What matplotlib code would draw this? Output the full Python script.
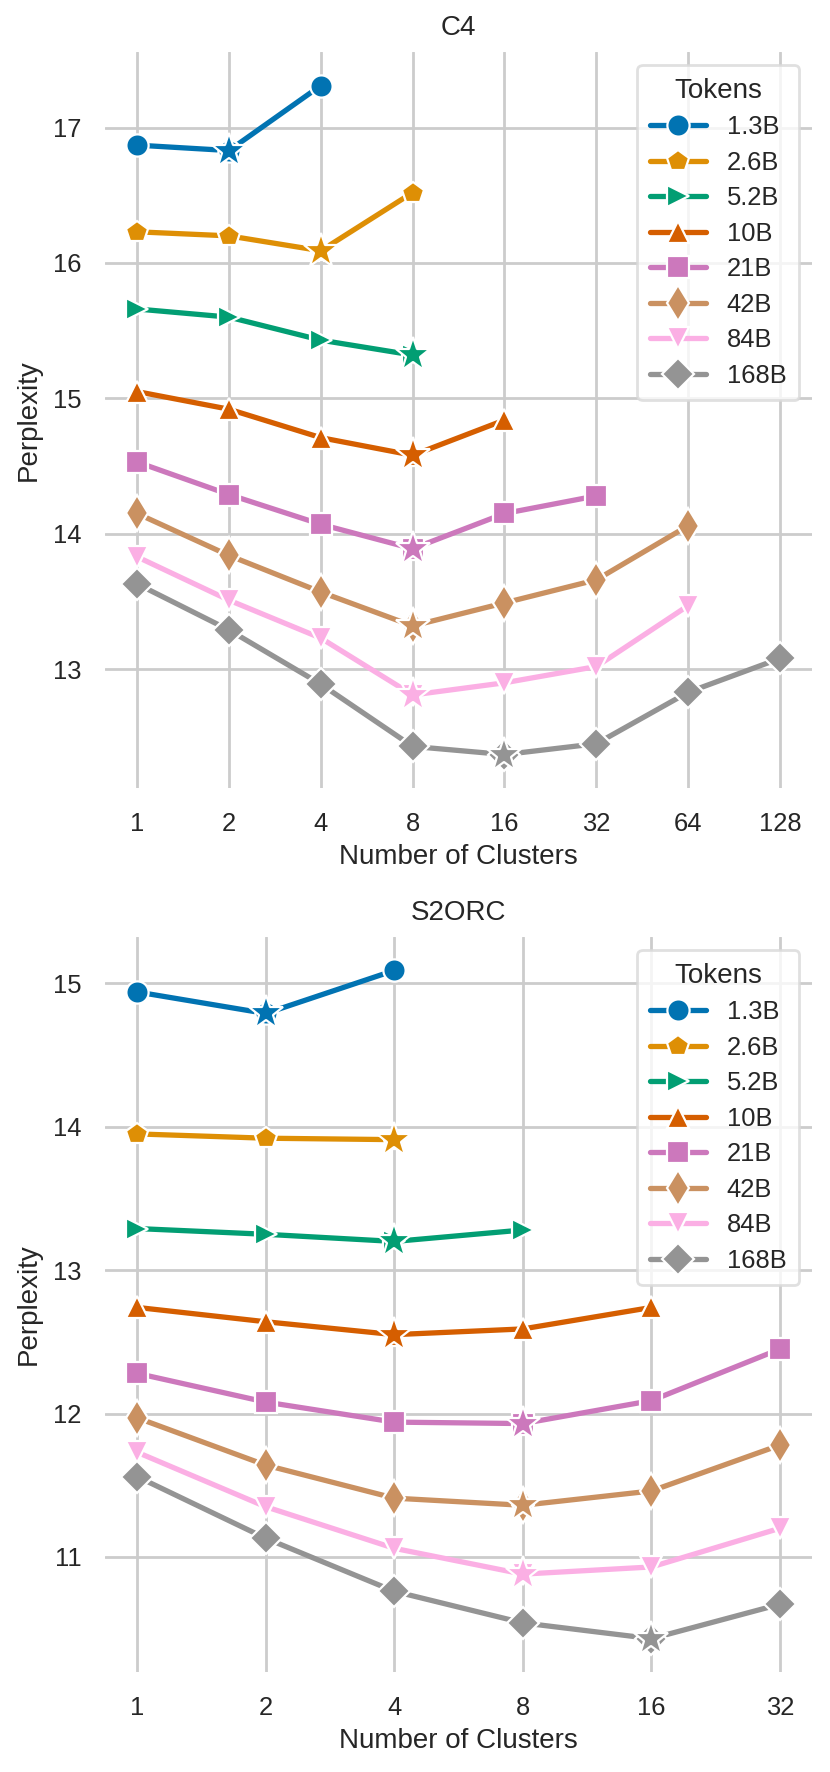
import matplotlib
matplotlib.use('Agg')
import matplotlib.pyplot as plt
import seaborn as sns
import numpy as np
from matplotlib.ticker import NullLocator

sns.set_theme(style='whitegrid')
plt.rcParams['font.family'] = ['Liberation Sans', 'DejaVu Sans']

tokens = ['1.3B', '2.6B', '5.2B', '10B', '21B', '42B', '84B', '168B']
markers = ['o', 'p', '>', '^', 's', 'd', 'v', 'D']
colors = sns.color_palette('colorblind', 8)

# C4 perplexity, index i -> clusters 1, 2, 4, ...
c4_clusters = [1, 2, 4, 8, 16, 32, 64, 128]
c4_ppl = [
    [16.87, 16.83, 17.31],
    [16.23, 16.20, 16.09, 16.52],
    [15.66, 15.60, 15.43, 15.32],
    [15.05, 14.92, 14.71, 14.58, 14.84],
    [14.53, 14.29, 14.07, 13.89, 14.15, 14.28],
    [14.15, 13.84, 13.57, 13.32, 13.49, 13.66, 14.06],
    [13.83, 13.51, 13.23, 12.81, 12.90, 13.02, 13.47],
    [13.63, 13.29, 12.89, 12.43, 12.37, 12.45, 12.83, 13.08],
]

# S2ORC perplexity
s2_clusters = [1, 2, 4, 8, 16, 32]
s2_ppl = [
    [14.94, 14.79, 15.09],
    [13.95, 13.92, 13.91],
    [13.29, 13.25, 13.20, 13.28],
    [12.74, 12.64, 12.55, 12.59, 12.74],
    [12.28, 12.08, 11.94, 11.93, 12.09, 12.45],
    [11.97, 11.64, 11.41, 11.36, 11.46, 11.78],
    [11.73, 11.35, 11.06, 10.88, 10.93, 11.20],
    [11.56, 11.13, 10.76, 10.54, 10.43, 10.67],
]

fig = plt.figure(figsize=(4.15, 8.86), dpi=200)
ax1 = fig.add_axes([0.1265, 0.5553, 0.852, 0.4153])
ax2 = fig.add_axes([0.1265, 0.0564, 0.852, 0.4148])

fs_tick = 9.2
fs_lab = 10


def draw(ax, clusters, ppl, title):
    for i, vals in enumerate(ppl):
        xs = clusters[:len(vals)]
        ax.plot(xs, vals, color=colors[i], marker=markers[i], lw=1.9,
                ms=8 if markers[i] != 'd' else 9,
                mec='white', mew=0.8, label=tokens[i], zorder=3)
        # best cluster count gets a star
        k = int(np.argmin(vals))
        ax.plot(xs[k], vals[k], color=colors[i], marker='*', ms=13,
                mec='white', mew=0.8, ls='none', zorder=4)
    ax.set_xscale('log', base=2)
    ax.set_xticks(clusters)
    ax.set_xticklabels([str(c) for c in clusters])
    ax.xaxis.set_minor_locator(NullLocator())
    ax.tick_params(labelsize=fs_tick, length=0, pad=8.5)
    ax.set_xlabel('Number of Clusters', fontsize=fs_lab, labelpad=3)
    ax.set_ylabel('Perplexity', fontsize=fs_lab, labelpad=4)
    ax.set_title(title, fontsize=fs_lab, pad=6)
    ax.margins(x=0.05, y=0.05)
    sns.despine(ax=ax, left=True, bottom=True)
    leg = ax.legend(title='Tokens', loc='upper right', fontsize=fs_tick,
                    title_fontsize=fs_lab, handlelength=2.2, borderpad=0.5,
                    labelspacing=0.45)
    leg.get_frame().set_edgecolor('0.85')


draw(ax1, c4_clusters, c4_ppl, 'C4')
draw(ax2, s2_clusters, s2_ppl, 'S2ORC')
ax1.set_yticks([13, 14, 15, 16, 17])
ax2.set_yticks([11, 12, 13, 14, 15])

fig.savefig('out.png', dpi=200)
